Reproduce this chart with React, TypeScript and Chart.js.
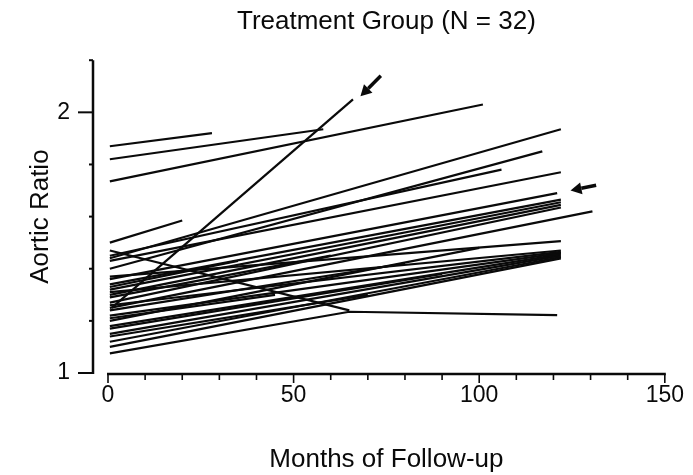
import React, { useEffect, useRef } from 'react';
import { Chart, registerables } from 'chart.js';

Chart.register(...registerables);

const chartTitle = 'Treatment Group (N = 32)';
const xAxisTitle = 'Months of Follow-up';
const yAxisTitle = 'Aortic Ratio';

const xTickLabels = [0, 50, 100, 150];
const yTickLabels = [1, 2];
const xMinorTicks = [0, 10, 20, 30, 40, 50, 60, 70, 80, 90, 100, 110, 120, 130, 140, 150];
const yMinorTicks = [1, 1.2, 1.4, 1.6, 1.8, 2, 2.2];

// follow-up months for each of the 32 patients
const patientMonths: number[][] = [
  [0.5, 28],
  [0.5, 58],
  [0.5, 101],
  [1, 66],
  [0.5, 20],
  [0.5, 122],
  [0.5, 117],
  [0.5, 106],
  [0.5, 122],
  [0.5, 121],
  [0.5, 122],
  [0.5, 122],
  [0.5, 122],
  [0.5, 122],
  [0.5, 130.5],
  [0.5, 122],
  [0.5, 122],
  [0.5, 122],
  [0.5, 122],
  [0.5, 122],
  [0.5, 122],
  [0.5, 122],
  [0.5, 122],
  [0.5, 65, 121],
  [0.5, 65],
  [0.5, 60],
  [0.5, 80],
  [0.5, 45],
  [0.5, 90],
  [0.5, 70],
  [0.5, 35],
  [0.5, 100],
];

// aortic ratio at those months
const patientRatios: number[][] = [
  [1.87, 1.92],
  [1.82, 1.935],
  [1.735, 2.03],
  [1.25, 2.05],
  [1.5, 1.585],
  [1.44, 1.935],
  [1.4, 1.85],
  [1.45, 1.78],
  [1.43, 1.77],
  [1.36, 1.69],
  [1.34, 1.665],
  [1.32, 1.655],
  [1.3, 1.645],
  [1.27, 1.635],
  [1.25, 1.62],
  [1.37, 1.506],
  [1.31, 1.47],
  [1.26, 1.465],
  [1.22, 1.46],
  [1.18, 1.455],
  [1.15, 1.45],
  [1.12, 1.445],
  [1.1, 1.44],
  [1.075, 1.235, 1.222],
  [1.47, 1.24],
  [1.29, 1.45],
  [1.24, 1.42],
  [1.21, 1.3],
  [1.17, 1.38],
  [1.14, 1.3],
  [1.33, 1.43],
  [1.2, 1.48],
];

// annotation arrows: [tailMonth, tailRatio, tipMonth, tipRatio]
const arrowNotes: number[][] = [
  [73.5, 2.14, 68, 2.062],
  [131.5, 1.72, 124.6, 1.70],
];

const FONT = "'Liberation Sans', Arial, Helvetica, sans-serif";
const INK = '#0a0a0a';

const axesPlugin = {
  id: 'detachedAxes',
  afterDraw(chart: any) {
    const ctx = chart.ctx;
    const xs = chart.scales.x;
    const ys = chart.scales.y;
    ctx.save();
    ctx.strokeStyle = INK;
    ctx.lineCap = 'butt';
    // y axis (detached, left of x=0)
    const ax = xs.getPixelForValue(0) - 15;
    ctx.lineWidth = 2.5;
    ctx.beginPath();
    ctx.moveTo(ax, ys.getPixelForValue(2.2));
    ctx.lineTo(ax, ys.getPixelForValue(1) + 1);
    ctx.stroke();
    ctx.lineWidth = 2;
    yMinorTicks.forEach((v) => {
      const py = ys.getPixelForValue(v);
      const len = yTickLabels.includes(v) ? 15 : 4;
      ctx.beginPath();
      ctx.moveTo(ax, py);
      ctx.lineTo(ax - len, py);
      ctx.stroke();
    });
    // x axis
    const ay = ys.getPixelForValue(1) + 1;
    ctx.lineWidth = 2.5;
    ctx.beginPath();
    ctx.moveTo(xs.getPixelForValue(0) - 1, ay);
    ctx.lineTo(xs.getPixelForValue(150) + 1, ay);
    ctx.stroke();
    ctx.lineWidth = 1.6;
    xMinorTicks.forEach((v) => {
      const px = xs.getPixelForValue(v);
      const len = xTickLabels.includes(v) ? 9 : 6;
      ctx.beginPath();
      ctx.moveTo(px, ay);
      ctx.lineTo(px, ay + len);
      ctx.stroke();
    });
    // arrows
    arrowNotes.forEach(([tm, tr, hm, hr]) => {
      const x0 = xs.getPixelForValue(tm);
      const y0 = ys.getPixelForValue(tr);
      const x1 = xs.getPixelForValue(hm);
      const y1 = ys.getPixelForValue(hr);
      const ang = Math.atan2(y1 - y0, x1 - x0);
      const head = 11;
      const hw = 6;
      const bx = x1 - head * Math.cos(ang);
      const by = y1 - head * Math.sin(ang);
      ctx.lineWidth = 3.5;
      ctx.beginPath();
      ctx.moveTo(x0, y0);
      ctx.lineTo(bx, by);
      ctx.stroke();
      ctx.fillStyle = INK;
      ctx.beginPath();
      ctx.moveTo(x1, y1);
      ctx.lineTo(bx + hw * Math.sin(ang), by - hw * Math.cos(ang));
      ctx.lineTo(bx - hw * Math.sin(ang), by + hw * Math.cos(ang));
      ctx.closePath();
      ctx.fill();
    });
    ctx.restore();
  },
};

export default function App() {
  const ref = useRef<HTMLCanvasElement>(null);

  useEffect(() => {
    if (!ref.current) return;
    const datasets = patientMonths.map((months, i) => ({
      label: `Patient ${i + 1}`,
      data: months.map((m, j) => ({ x: m, y: patientRatios[i][j] })),
      borderColor: INK,
      borderWidth: 2.2,
      pointRadius: 0,
      fill: false,
      tension: 0,
    }));
    const chart = new Chart(ref.current, {
      type: 'line',
      data: { datasets },
      options: {
        responsive: false,
        animation: false,
        devicePixelRatio: 1,
        layout: { padding: { left: 0, right: 23, top: 0, bottom: 0 } },
        plugins: {
          legend: { display: false },
          tooltip: { enabled: false },
          title: {
            display: true,
            text: chartTitle,
            fullSize: false,
            color: INK,
            font: { family: FONT, size: 26, weight: 'normal' },
            padding: { top: 6, bottom: 23 },
          },
        },
        scales: {
          x: {
            type: 'linear',
            min: 0,
            max: 150,
            grid: { display: false, drawTicks: false },
            border: { display: false },
            afterBuildTicks: (s: any) => {
              s.ticks = xTickLabels.map((v) => ({ value: v }));
            },
            afterFit: (s: any) => {
              s.height = 102;
            },
            ticks: {
              padding: 9,
              color: INK,
              autoSkip: false,
              maxRotation: 0,
              font: { family: FONT, size: 23 },
            },
            title: {
              display: true,
              text: xAxisTitle,
              color: INK,
              font: { family: FONT, size: 26 },
              padding: { top: 0, bottom: 0 },
            },
          },
          y: {
            type: 'linear',
            min: 1,
            max: 2.2,
            grid: { display: false, drawTicks: false },
            border: { display: false },
            afterBuildTicks: (s: any) => {
              s.ticks = yTickLabels.map((v) => ({ value: v }));
            },
            afterFit: (s: any) => {
              s.width = 108;
            },
            ticks: {
              padding: 38,
              color: INK,
              autoSkip: false,
              font: { family: FONT, size: 23 },
            },
            title: {
              display: true,
              text: yAxisTitle,
              color: INK,
              font: { family: FONT, size: 26 },
              padding: { top: 25, bottom: 0 },
            },
          },
        },
      },
      plugins: [axesPlugin],
    } as any);
    return () => chart.destroy();
  }, []);

  return (
    <div style={{ position: 'fixed', left: 0, top: 0, width: 693, height: 475, background: '#fff' }}>
      <canvas ref={ref} width={693} height={475} style={{ width: 693, height: 475 }} />
    </div>
  );
}
